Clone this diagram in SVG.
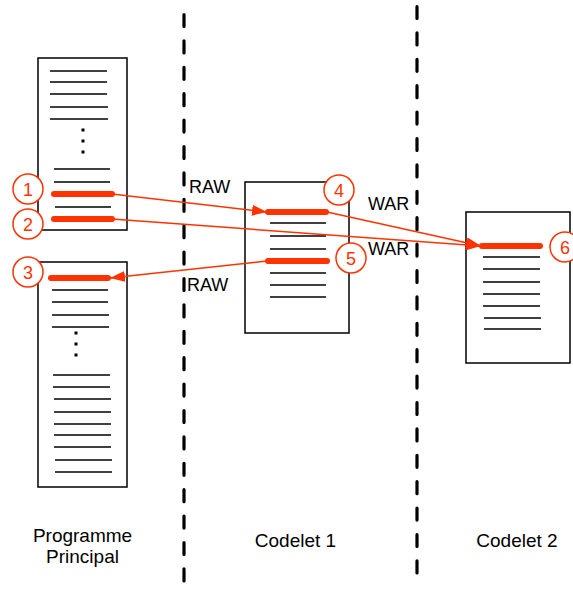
<svg xmlns="http://www.w3.org/2000/svg" width="573" height="591" viewBox="0 0 573 591">
<defs>
<style>
.box{fill:#fff;stroke:#000;stroke-width:1.5}
.ln{stroke:#000;stroke-width:1.6;fill:none}
.hl{stroke:#ff3300;stroke-width:6;stroke-linecap:round;fill:none}
.conn{stroke:#ff3300;stroke-width:1.5;fill:none}
.circ{fill:#fff;stroke:#ff3300;stroke-width:1.5}
.num{fill:#ff3300;font-family:"Liberation Sans",Arial,sans-serif;font-size:18px;text-anchor:middle}
.lbl{fill:#000;font-family:"Liberation Sans",Arial,sans-serif;font-size:18px}
.cap{fill:#000;font-family:"Liberation Sans",Arial,sans-serif;font-size:19px;text-anchor:middle}
.sep{stroke:#000;stroke-width:3.2;stroke-linecap:round;stroke-dasharray:12 14.4;fill:none}
.dot{fill:#000}
</style>
<marker id="arr" markerWidth="16" markerHeight="12" refX="15" refY="5.5" orient="auto" markerUnits="userSpaceOnUse">
<path d="M0,0 L15,5.5 L0,11 z" fill="#ff3300"/>
</marker>
</defs>

<g id="separators">
<line class="sep" x1="184" y1="14.5" x2="184" y2="582"/>
<line class="sep" x1="417" y1="6.5" x2="417" y2="573"/>
</g>

<g id="prog-top">
<rect class="box" x="38" y="58" width="89" height="172"/>
<line class="ln" x1="50" y1="71" x2="107" y2="71"/>
<line class="ln" x1="50" y1="82" x2="107" y2="82"/>
<line class="ln" x1="50" y1="94" x2="107" y2="94"/>
<line class="ln" x1="50" y1="107" x2="108" y2="107"/>
<line class="ln" x1="50" y1="119" x2="108" y2="119"/>
<rect class="dot" x="81.5" y="128.5" width="3" height="3"/>
<rect class="dot" x="81.5" y="139.5" width="3" height="3"/>
<rect class="dot" x="81.5" y="150.5" width="3" height="3"/>
<line class="ln" x1="54" y1="169" x2="110" y2="169"/>
<line class="ln" x1="54" y1="182" x2="110" y2="182"/>
<line class="hl" x1="54" y1="194" x2="112" y2="194"/>
<line class="ln" x1="55" y1="207" x2="111" y2="207"/>
<line class="hl" x1="54" y1="219" x2="112" y2="219"/>
</g>

<g id="prog-bottom">
<rect class="box" x="38" y="262" width="89" height="225"/>
<line class="hl" x1="51" y1="278" x2="108" y2="278"/>
<line class="ln" x1="52" y1="290" x2="108" y2="290"/>
<line class="ln" x1="52" y1="302" x2="108" y2="302"/>
<line class="ln" x1="52" y1="315" x2="109" y2="315"/>
<line class="ln" x1="52" y1="327" x2="109" y2="327"/>
<rect class="dot" x="74.5" y="331.5" width="3" height="3"/>
<rect class="dot" x="74.5" y="342.5" width="3" height="3"/>
<rect class="dot" x="74.5" y="353.5" width="3" height="3"/>
<line class="ln" x1="53" y1="375" x2="110" y2="375"/>
<line class="ln" x1="53" y1="387" x2="110" y2="387"/>
<line class="ln" x1="54" y1="399" x2="111" y2="399"/>
<line class="ln" x1="54" y1="412" x2="111" y2="412"/>
<line class="ln" x1="54" y1="424" x2="111" y2="424"/>
<line class="ln" x1="54" y1="435" x2="111" y2="435"/>
<line class="ln" x1="54" y1="447" x2="111" y2="447"/>
<line class="ln" x1="55" y1="460" x2="112" y2="460"/>
<line class="ln" x1="55" y1="472" x2="112" y2="472"/>
</g>

<g id="codelet1">
<rect class="box" x="245" y="182" width="104" height="151"/>
<line class="hl" x1="268" y1="212" x2="326" y2="212"/>
<line class="ln" x1="270" y1="223" x2="326" y2="223"/>
<line class="ln" x1="270" y1="236" x2="326" y2="236"/>
<line class="ln" x1="270" y1="249" x2="326" y2="249"/>
<line class="hl" x1="268" y1="261" x2="327" y2="261"/>
<line class="ln" x1="270" y1="273" x2="326" y2="273"/>
<line class="ln" x1="270" y1="285" x2="326" y2="285"/>
<line class="ln" x1="270" y1="297" x2="326" y2="297"/>
</g>

<g id="codelet2">
<rect class="box" x="466" y="212" width="104" height="151"/>
<line class="hl" x1="482" y1="246" x2="540" y2="246"/>
<line class="ln" x1="483" y1="257" x2="540" y2="257"/>
<line class="ln" x1="483" y1="269" x2="540" y2="269"/>
<line class="ln" x1="483" y1="282" x2="540" y2="282"/>
<line class="ln" x1="483" y1="294" x2="540" y2="294"/>
<line class="ln" x1="483" y1="306" x2="540" y2="306"/>
<line class="ln" x1="484" y1="318" x2="541" y2="318"/>
<line class="ln" x1="484" y1="329" x2="541" y2="329"/>
</g>

<g id="connectors">
<line class="conn" x1="112" y1="194" x2="267" y2="212" marker-end="url(#arr)"/>
<line class="conn" x1="327" y1="212" x2="481" y2="246" marker-end="url(#arr)"/>
<line class="conn" x1="112" y1="219" x2="481" y2="246" marker-end="url(#arr)"/>
<line class="conn" x1="267" y1="261" x2="110" y2="278" marker-end="url(#arr)"/>
</g>

<g id="badges">
<g id="b1"><circle class="circ" cx="28" cy="189" r="15"/><text class="num" x="28" y="195.5">1</text></g>
<g id="b2"><circle class="circ" cx="28" cy="224" r="15"/><text class="num" x="28" y="230.5">2</text></g>
<g id="b3"><circle class="circ" cx="28" cy="272" r="15"/><text class="num" x="28" y="278.5">3</text></g>
<g id="b4"><circle class="circ" cx="339" cy="190" r="15"/><text class="num" x="339" y="196.5">4</text></g>
<g id="b5"><circle class="circ" cx="351" cy="258" r="15"/><text class="num" x="351" y="264.5">5</text></g>
<g id="b6"><circle class="circ" cx="565" cy="247" r="15"/><text class="num" x="565" y="253.5">6</text></g>
</g>

<g id="labels">
<text class="lbl" x="189" y="193">RAW</text>
<text class="lbl" x="187" y="291">RAW</text>
<text class="lbl" x="368" y="210">WAR</text>
<text class="lbl" x="368" y="255">WAR</text>
<text class="cap" x="82.5" y="542">Programme</text>
<text class="cap" x="82.5" y="563">Principal</text>
<text class="cap" x="295.5" y="547">Codelet 1</text>
<text class="cap" x="517" y="547">Codelet 2</text>
</g>
</svg>
